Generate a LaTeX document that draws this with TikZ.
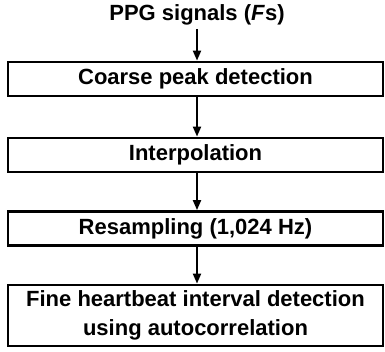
\documentclass[tikz,border=0pt]{standalone}
\usepackage{fontspec}
\setmainfont{Liberation Sans}
\usetikzlibrary{arrows.meta}
\tikzset{stage/.style={draw,line width=2.8pt,minimum width=375pt,minimum height=34pt,inner sep=0pt,align=center,font=\bfseries\fontsize{22}{29}\selectfont},
flow/.style={-{Triangle[length=10pt,width=8pt]},line width=2pt}}
\begin{document}
\begin{tikzpicture}[x=1pt,y=-1pt]
\useasboundingbox (0,0) rectangle (385,351);
\node[font=\bfseries\fontsize{22}{25}\selectfont] (ppg) at (197,15) {PPG signals (\textit{F}s)};
\node[stage] (coarse) at (195.5,79) {Coarse peak detection};
\node[stage] (interp) at (195.5,155) {Interpolation};
\node[stage] (resamp) at (195.5,228.5) {Resampling (1,024 Hz)};
\node[stage,minimum height=61pt] (fine) at (195.5,315.5) {Fine heartbeat interval detection\\using autocorrelation};
\draw[flow] (ppg.south -| coarse.north) ++(1.5,0) -- (coarse.north -| 197,0);
\draw[flow] (197,0 |- coarse.south) -- (197,0 |- interp.north);
\draw[flow] (197,0 |- interp.south) -- (197,0 |- resamp.north);
\draw[flow] (197,0 |- resamp.south) -- (197,0 |- fine.north);
\end{tikzpicture}
\end{document}
